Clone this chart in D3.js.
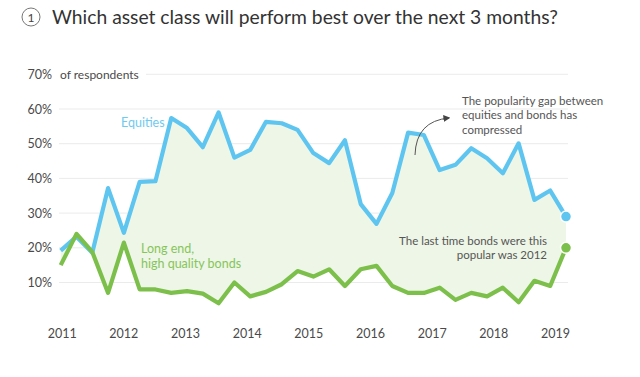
<!DOCTYPE html>
<html>
<head>
<meta charset="utf-8">
<script src="https://cdn.jsdelivr.net/npm/d3@7"></script>
<style>
    body{margin:0;background:#fff;}
    text{font-family:Lato,"Open Sans",sans-serif;}
</style>
</head>
<body>
<div id="chart"></div>
<script>
// 0.data (quarterly survey, 2011 Q1 -> 2019 Q1), % of respondents
var years = ["2011","2012","2013","2014","2015","2016","2017","2018","2019"];
var yTicks = [10,20,30,40,50,60,70];
var equities = [19.2,23.2,18.6,37.2,24.3,39,39.2,57.4,54.5,49,59,46,
                48.2,56.3,55.9,54,47.3,44.4,51,32.6,26.9,35.8,53.2,52.5,
                42.4,43.9,48.7,45.8,41.5,50.1,33.8,36.5,29];
var bonds = [15,24,18.8,7,21.5,8,8,7,7.5,6.8,4,10,
             6,7.3,9.5,13.3,11.7,13.8,9,13.8,14.8,9,7,7,
             8.5,5,7,6,8.5,4.3,10.5,9,20];

// 0.1.size
var svgW = 640, svgH = 377;
var blue = "#5ec5f0", green = "#7cc04b", fillCol = "#eef6e7", txt = "#4a4a4a";

var x = d3.scaleLinear().domain([0, equities.length - 1]).range([60.7, 566]);
var xYear = d3.scalePoint().domain(years).range([61.7, 555]);
var y = d3.scaleLinear().domain([0, 70]).range([317.2, 74.3]);

// 1.Add DOM elements
var svg = d3.select("#chart").append("svg").attr("width", svgW).attr("height", svgH);

// title
svg.append("circle").attr("cx", 31).attr("cy", 17).attr("r", 9)
    .attr("fill", "none").attr("stroke", "#777").attr("stroke-width", 1);
svg.append("text").attr("x", 31).attr("y", 21.5).attr("text-anchor", "middle")
    .attr("font-size", 12).attr("fill", "#444").text("1");
svg.append("text").attr("x", 52).attr("y", 24)
    .attr("font-size", 20).attr("fill", "#333")
    .attr("textLength", 506).attr("lengthAdjust", "spacingAndGlyphs")
    .text("Which asset class will perform best over the next 3 months?");

// grid
svg.append("g").selectAll("line").data(yTicks).enter().append("line")
    .attr("x1", function(d){ return d == 70 ? 146 : 59; })
    .attr("x2", 568)
    .attr("y1", function(d){ return y(d); })
    .attr("y2", function(d){ return y(d); })
    .attr("stroke", "#ebebeb").attr("stroke-width", 1);

// y labels
svg.append("g").selectAll("text").data(yTicks).enter().append("text")
    .attr("x", 52).attr("y", function(d){ return y(d) + 4.5; })
    .attr("text-anchor", "end").attr("font-size", 12.5).attr("fill", txt)
    .text(function(d){ return d + "%"; });
svg.append("text").attr("x", 60).attr("y", y(70) + 4.5)
    .attr("font-size", 12).attr("fill", txt).text("of respondents");

// x axis
var xAxis = d3.axisBottom(xYear).tickSize(0).tickPadding(0);
var gx = svg.append("g").attr("transform", "translate(0,329)").call(xAxis);
gx.select(".domain").remove();
gx.selectAll("text").attr("font-size", 12.5).attr("fill", txt)
    .attr("font-family", "Lato,'Open Sans',sans-serif");

// gap area
var area = d3.area()
    .x(function(d, i){ return x(i); })
    .y0(function(d, i){ return y(bonds[i]); })
    .y1(function(d){ return y(d); });
svg.append("path").datum(equities).attr("d", area).attr("fill", fillCol);

// lines
var line = d3.line().x(function(d, i){ return x(i); }).y(function(d){ return y(d); });
svg.append("path").datum(equities).attr("d", line)
    .attr("fill", "none").attr("stroke", blue).attr("stroke-width", 4.2).attr("stroke-linejoin", "round");
svg.append("path").datum(bonds).attr("d", line)
    .attr("fill", "none").attr("stroke", green).attr("stroke-width", 4.2).attr("stroke-linejoin", "round");

// end dots
var last = equities.length - 1;
svg.append("circle").attr("cx", x(last)).attr("cy", y(equities[last])).attr("r", 5.5)
    .attr("fill", blue).attr("stroke", "#fff").attr("stroke-width", 1.5);
svg.append("circle").attr("cx", x(last)).attr("cy", y(bonds[last])).attr("r", 5.5)
    .attr("fill", green).attr("stroke", "#fff").attr("stroke-width", 1.5);

// series labels
svg.append("text").attr("x", 121).attr("y", 127).attr("font-size", 12.5)
    .attr("fill", "#6fcaf0").text("Equities");
var bl = svg.append("text").attr("x", 141).attr("y", 253).attr("font-size", 12.5).attr("fill", "#86c55a");
bl.append("tspan").attr("x", 141).text("Long end,");
bl.append("tspan").attr("x", 141).attr("dy", 14.5).text("high quality bonds");

// annotations
var a1 = svg.append("text").attr("x", 462).attr("y", 105).attr("font-size", 11.5).attr("fill", "#555");
["The popularity gap between", "equities and bonds has", "compressed"].forEach(function(s, i){
    a1.append("tspan").attr("x", 462).attr("dy", i ? 14.3 : 0).text(s);
});
var a2 = svg.append("text").attr("x", 547).attr("y", 245).attr("font-size", 11.5)
    .attr("fill", "#555").attr("text-anchor", "end");
["The last time bonds were this", "popular was 2012"].forEach(function(s, i){
    a2.append("tspan").attr("x", 547).attr("dy", i ? 14.3 : 0).text(s);
});

// arrow
svg.append("defs").append("marker").attr("id", "arr")
    .attr("viewBox", "0 0 10 10").attr("refX", 8).attr("refY", 5)
    .attr("markerWidth", 7).attr("markerHeight", 7).attr("orient", "auto")
    .append("path").attr("d", "M0,0L10,5L0,10z").attr("fill", "#444");
svg.append("path").attr("d", "M415,155Q416,121 449,118")
    .attr("fill", "none").attr("stroke", "#555").attr("stroke-width", 1)
    .attr("marker-end", "url(#arr)");
</script>
</body>
</html>
